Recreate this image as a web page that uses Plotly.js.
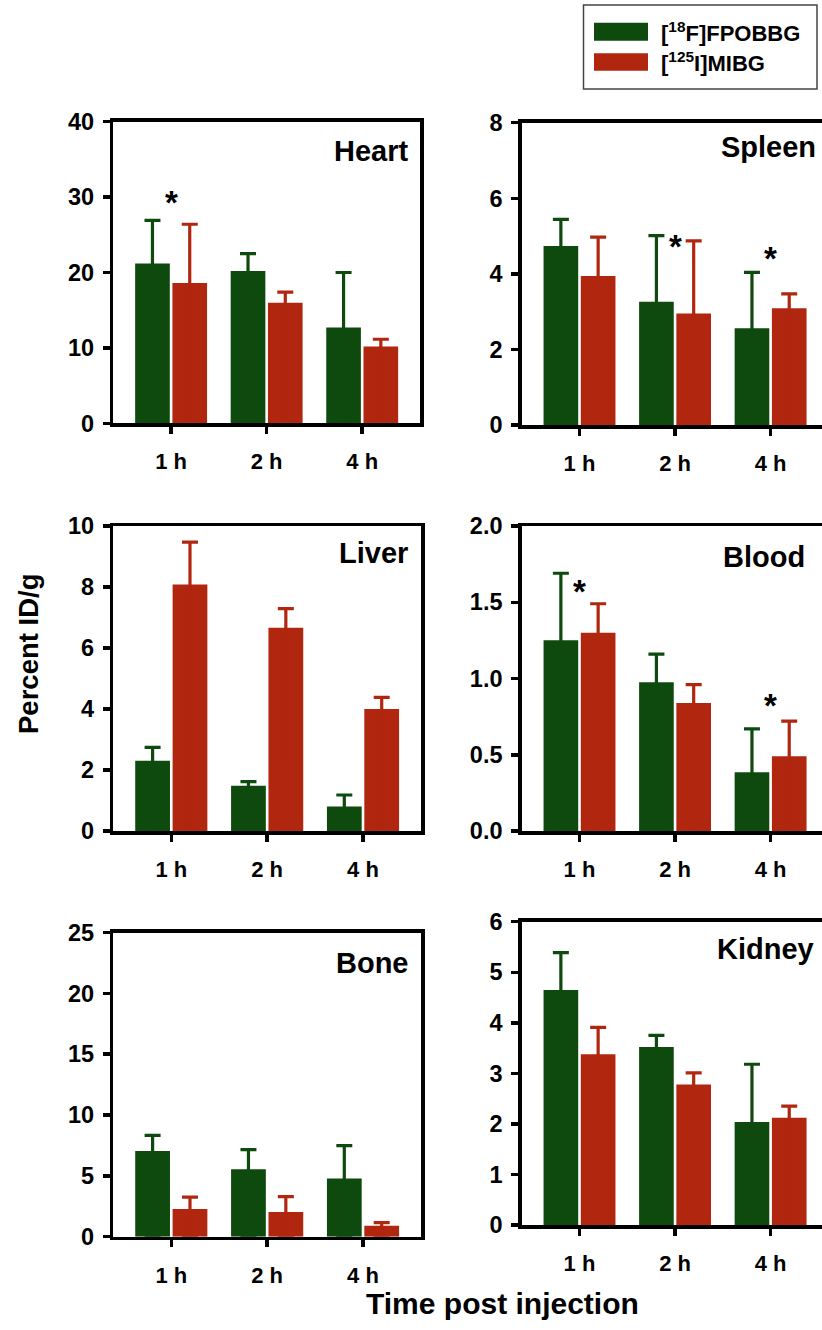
<!DOCTYPE html>
<html>
<head>
<meta charset="utf-8">
<script src="https://cdn.plot.ly/plotly-3.0.1.min.js"></script>
<style>
html,body{margin:0;padding:0;overflow:hidden;background:#fff;}
#chart{width:840px;height:1330px;}
</style>
</head>
<body>
<div id="chart"></div>
<script>
// ---------- data ----------
const times = ['1 h', '2 h', '4 h'];
const seriesNames = ['[18F]FPOBBG', '[125I]MIBG'];

const heartF = [21.2, 20.2, 12.7];
const heartFsd = [5.7, 2.3, 7.3];
const heartM = [18.6, 16.0, 10.2];
const heartMsd = [7.8, 1.4, 0.95];

const spleenF = [4.74, 3.26, 2.56];
const spleenFsd = [0.70, 1.75, 1.48];
const spleenM = [3.94, 2.95, 3.09];
const spleenMsd = [1.03, 1.92, 0.38];

const liverF = [2.30, 1.48, 0.80];
const liverFsd = [0.44, 0.14, 0.38];
const liverM = [8.08, 6.66, 4.00];
const liverMsd = [1.39, 0.63, 0.38];

const bloodF = [1.25, 0.975, 0.385];
const bloodFsd = [0.44, 0.185, 0.285];
const bloodM = [1.30, 0.84, 0.49];
const bloodMsd = [0.19, 0.12, 0.23];

const boneF = [7.04, 5.55, 4.78];
const boneFsd = [1.29, 1.60, 2.70];
const boneM = [2.28, 2.04, 0.90];
const boneMsd = [0.97, 1.26, 0.25];

const kidneyF = [4.65, 3.52, 2.04];
const kidneyFsd = [0.74, 0.23, 1.14];
const kidneyM = [3.38, 2.78, 2.12];
const kidneyMsd = [0.53, 0.23, 0.23];

// significance markers: [category, y]
const heartStars = [['1 h', 30.3]];
const spleenStars = [['2 h', 4.94], ['4 h', 4.63]];
const bloodStars = [['1 h', 1.62], ['4 h', 0.877]];

// ---------- styling / layout ----------
const W = 840, H = 1330;
const GREEN = '#0E4A0E', RED = '#B1260F';
const FONT = 'Liberation Sans, Arial, Helvetica, sans-serif';

const panels = [
  {name:'Heart',  f:heartF,  fsd:heartFsd,  m:heartM,  msd:heartMsd,  ymax:40,  dtick:10,  fmt:'',    stars:heartStars,
   px:[113.3,420], py:[121.7,423.3], tdy:29, tdx:-10},
  {name:'Spleen', f:spleenF, fsd:spleenFsd, m:spleenM, msd:spleenMsd, ymax:8,   dtick:2,   fmt:'',    stars:spleenStars,
   px:[521.7,828.4], py:[122.7,425], tdy:24, tdx:-10},
  {name:'Liver',  f:liverF,  fsd:liverFsd,  m:liverM,  msd:liverMsd,  ymax:10,  dtick:2,   fmt:'',    stars:[],
   px:[113.3,421], py:[526,831], tdy:27, tdx:-11},
  {name:'Blood',  f:bloodF,  fsd:bloodFsd,  m:bloodM,  msd:bloodMsd,  ymax:2,   dtick:0.5, fmt:'.1f', stars:bloodStars,
   px:[521.7,828.4], py:[526,831], tdy:31, tdx:-21},
  {name:'Bone',   f:boneF,   fsd:boneFsd,   m:boneM,   msd:boneMsd,   ymax:25,  dtick:5,   fmt:'',    stars:[],
   px:[113.3,421], py:[932.5,1236.7], tdy:30, tdx:-10},
  {name:'Kidney', f:kidneyF, fsd:kidneyFsd, m:kidneyM, msd:kidneyMsd, ymax:6,   dtick:1,   fmt:'',    stars:[],
   px:[521.7,828.4], py:[921.7,1225], tdy:27, tdx:-12}
];

const traces = [];
const layout = {
  width: W, height: H,
  margin: {l:0, r:0, t:0, b:0},
  paper_bgcolor: 'white', plot_bgcolor: 'white',
  barmode: 'group', bargap: 0.22, bargroupgap: 0.07,
  showlegend: false,
  font: {family: FONT, color: 'black'},
  annotations: [], shapes: []
};

panels.forEach((p, i) => {
  const sfx = i === 0 ? '' : String(i + 1);
  const xa = 'x' + sfx, ya = 'y' + sfx;
  // only the upper whisker is visible: the lower one runs down inside the bar to the axis
  traces.push({
    type: 'bar', x: times, y: p.f, name: seriesNames[0], xaxis: xa, yaxis: ya,
    marker: {color: GREEN, line: {width: 0}},
    error_y: {type: 'data', symmetric: false, array: p.fsd, arrayminus: p.f,
              color: GREEN, thickness: 3.2, width: 8},
    hoverinfo: 'skip'
  });
  traces.push({
    type: 'bar', x: times, y: p.m, name: seriesNames[1], xaxis: xa, yaxis: ya,
    marker: {color: RED, line: {width: 0}},
    error_y: {type: 'data', symmetric: false, array: p.msd, arrayminus: p.m,
              color: RED, thickness: 3.2, width: 8},
    hoverinfo: 'skip'
  });
  layout['xaxis' + sfx] = {
    type: 'category', categoryorder: 'array', categoryarray: times,
    range: [-0.605, 2.605],
    domain: [p.px[0] / W, p.px[1] / W], anchor: ya,
    showline: true, linewidth: 3.5, linecolor: 'black', mirror: true, layer: 'above traces',
    ticks: 'outside', ticklen: 7, tickwidth: 3.5, tickcolor: 'black',
    tickfont: {family: FONT, size: 22, weight: 'bold', color: 'black'},
    ticklabelstandoff: 9,
    showgrid: false, zeroline: false, fixedrange: true
  };
  layout['yaxis' + sfx] = {
    range: [0, p.ymax], dtick: p.dtick, tick0: 0, tickformat: p.fmt,
    domain: [1 - p.py[1] / H, 1 - p.py[0] / H], anchor: xa,
    showline: true, linewidth: 3.5, linecolor: 'black', mirror: true, layer: 'above traces',
    ticks: 'outside', ticklen: 7, tickwidth: 3.5, tickcolor: 'black',
    tickfont: {family: FONT, size: 23.5, weight: 'bold', color: 'black'},
    ticklabelstandoff: 4,
    showgrid: false, zeroline: false, fixedrange: true
  };
  // organ label
  layout.annotations.push({
    xref: xa + ' domain', yref: ya + ' domain', x: 1, y: 1,
    xanchor: 'right', yanchor: 'middle', xshift: p.tdx, yshift: -p.tdy,
    text: p.name, showarrow: false,
    font: {family: FONT, size: 29, weight: 'bold', color: 'black'}
  });
  // significance stars
  p.stars.forEach(s => {
    layout.annotations.push({
      xref: xa, yref: ya, x: s[0], y: s[1], text: '*', showarrow: false,
      xanchor: 'center', yanchor: 'middle', yshift: -8,
      font: {family: FONT, size: 33, weight: 'bold', color: 'black'}
    });
  });
});

// axis titles
layout.annotations.push({
  xref: 'paper', yref: 'paper', x: 28 / W, y: 1 - 654 / H,
  xanchor: 'center', yanchor: 'middle', textangle: -90,
  text: 'Percent ID/g', showarrow: false,
  font: {family: FONT, size: 27.5, weight: 'bold', color: 'black'}
});
layout.annotations.push({
  xref: 'paper', yref: 'paper', x: 502 / W, y: 1 - 1303 / H,
  xanchor: 'center', yanchor: 'middle',
  text: 'Time post injection', showarrow: false,
  font: {family: FONT, size: 30, weight: 'bold', color: 'black'}
});

// legend box
function px2x(v) { return v / W; }
function px2y(v) { return 1 - v / H; }
layout.shapes.push({type:'rect', xref:'paper', yref:'paper',
  x0: px2x(583.5), x1: px2x(817), y0: px2y(89), y1: px2y(5),
  line: {color: '#444', width: 1.5}, fillcolor: 'white', layer: 'below'});
const legendRows = [
  {name: '[<sup>18</sup>F]FPOBBG', color: GREEN, y0: 22.7, y1: 40.7, ty: 31.7},
  {name: '[<sup>125</sup>I]MIBG',  color: RED,   y0: 53.3, y1: 70.7, ty: 61.7}
];
legendRows.forEach(r => {
  layout.shapes.push({type:'rect', xref:'paper', yref:'paper',
    x0: px2x(594), x1: px2x(648), y0: px2y(r.y1), y1: px2y(r.y0),
    line: {width: 0}, fillcolor: r.color});
  layout.annotations.push({xref:'paper', yref:'paper', x: px2x(659), y: px2y(r.ty),
    xanchor:'left', yanchor:'middle', text: r.name, showarrow:false,
    font: {family: FONT, size: 22, weight: 'bold', color: 'black'}});
});

Plotly.newPlot('chart', traces, layout, {staticPlot: true, displayModeBar: false});
</script>
</body>
</html>
